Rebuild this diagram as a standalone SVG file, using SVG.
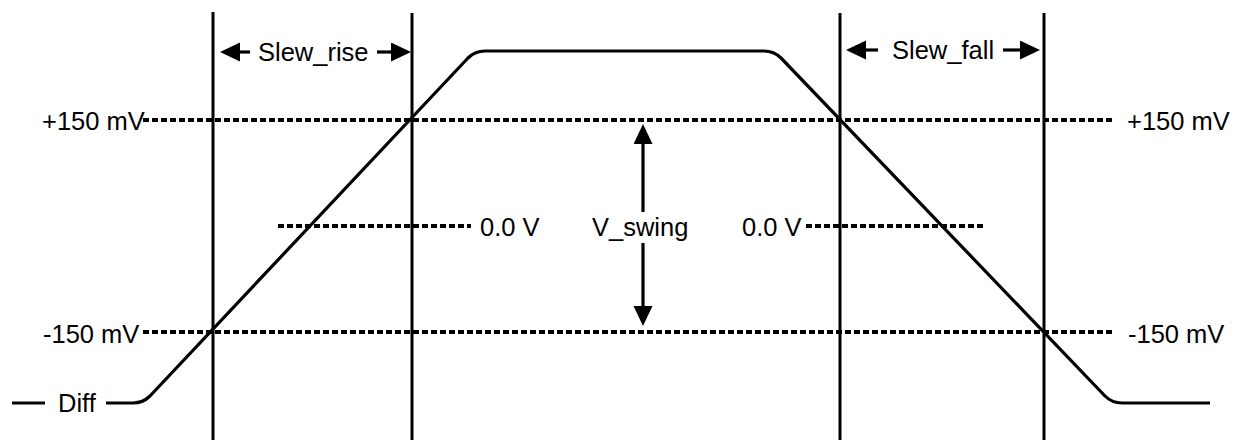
<svg xmlns="http://www.w3.org/2000/svg" width="1241" height="445" viewBox="0 0 1241 445">
  <style>
    .lbl { font-family: "Liberation Sans", Arial, sans-serif; font-size: 25.5px; fill: #000; }
    .vline { stroke: #000; stroke-width: 3; fill: none; }
    .dot { stroke: #000; stroke-width: 4; stroke-dasharray: 6 3; fill: none; }
    .wave { stroke: #000; stroke-width: 3.2; fill: none; stroke-linejoin: round; }
    .arr { stroke: #000; stroke-width: 3.2; fill: none; marker-end: url(#ah); }
  </style>
  <defs>
    <marker id="ah" markerUnits="userSpaceOnUse" markerWidth="22" markerHeight="20" refX="0" refY="9.5" orient="auto">
      <path d="M0,0 L20,9.5 L0,19 Z" fill="#000"/>
    </marker>
  </defs>
  <rect width="1241" height="445" fill="#fff"/>

  <g id="verticals">
    <line class="vline" x1="213" y1="12" x2="213" y2="440"/>
    <line class="vline" x1="412" y1="13" x2="412" y2="440"/>
    <line class="vline" x1="840" y1="13" x2="840" y2="440"/>
    <line class="vline" x1="1044" y1="13" x2="1044" y2="440"/>
  </g>

  <g id="levels">
    <line class="dot" x1="143" y1="120" x2="1112" y2="120"/>
    <line class="dot" x1="143" y1="332" x2="1112" y2="332"/>
    <line class="dot" x1="278" y1="226" x2="471" y2="226"/>
    <line class="dot" x1="806" y1="226" x2="985" y2="226"/>
  </g>

  <g id="waveform">
    <line class="wave" x1="12" y1="403" x2="45" y2="403"/>
    <path class="wave" d="M106,403 L133,403 Q143,403 150,396 L468,58 Q475,51 485,51 L764,51 Q774,51 781,58 L1105,396 Q1112,403 1122,403 L1210,403"/>
  </g>

  <g id="connectors">
    <line class="arr" x1="250" y1="52" x2="240" y2="52"/>
    <line class="arr" x1="377" y1="52" x2="391" y2="52"/>
    <line class="arr" x1="878" y1="50" x2="866" y2="50"/>
    <line class="arr" x1="1003" y1="50" x2="1020" y2="50"/>
    <line class="arr" x1="643" y1="212" x2="643" y2="144"/>
    <line class="arr" x1="643" y1="243" x2="643" y2="306"/>
  </g>

  <g id="labels">
    <text class="lbl" x="258" y="61">Slew_rise</text>
    <text class="lbl" x="892" y="59">Slew_fall</text>
    <text class="lbl" x="42" y="130">+150 mV</text>
    <text class="lbl" x="1127" y="130">+150 mV</text>
    <text class="lbl" x="43" y="343">-150 mV</text>
    <text class="lbl" x="1128" y="343">-150 mV</text>
    <text class="lbl" x="480" y="236">0.0 V</text>
    <text class="lbl" x="742" y="236">0.0 V</text>
    <text class="lbl" x="592" y="236">V_swing</text>
    <text class="lbl" x="58" y="412">Diff</text>
  </g>
</svg>
